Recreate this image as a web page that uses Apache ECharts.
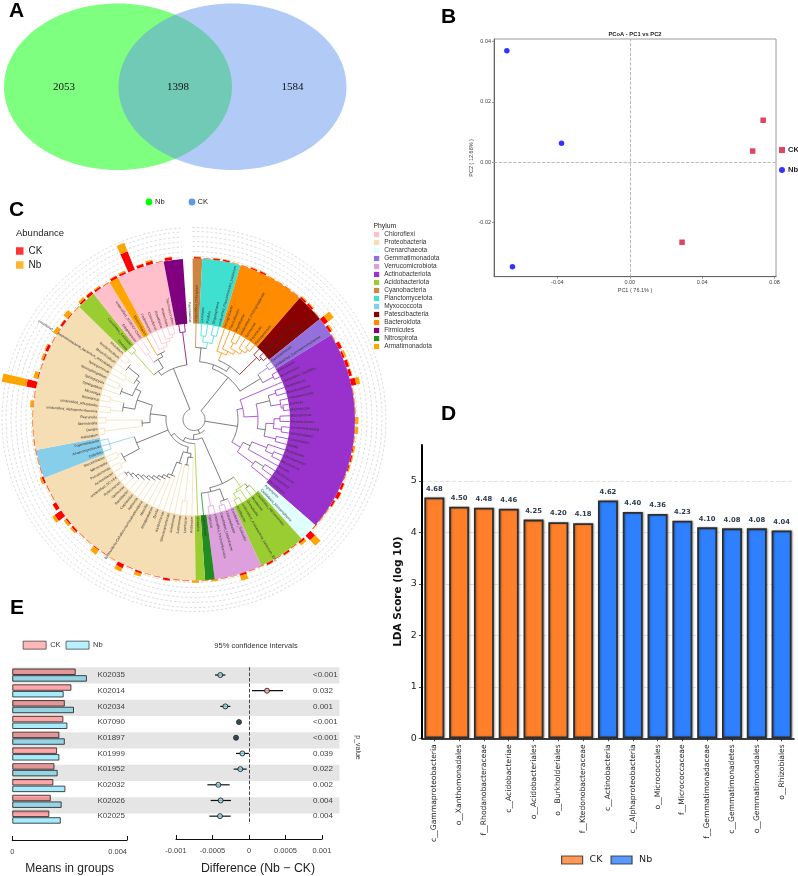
<!DOCTYPE html>
<html>
<head>
<meta charset="utf-8">
<title>Rhizosphere community overview</title>
<script src="https://cdn.jsdelivr.net/npm/echarts@6/dist/echarts.min.js"></script>
<style>
html,body{margin:0;padding:0;background:#fff}
#chart{width:798px;height:876px}
</style>
</head>
<body>
<div id="chart"></div>
<script>
// Panel A: shared and unique OTU counts
const vennCounts = ['2053', '1398', '1584'];

// Panel B: PCoA sample scores
const pcoaCK = [[0.0737, 0.0139], [0.0679, 0.0037], [0.0289, -0.0265]];
const pcoaNb = [[-0.0679, 0.03695], [-0.0377, 0.0063], [-0.0648, -0.0346]];
const pcoaTicksX = [-0.04, 0, 0.04, 0.08];
const pcoaTicksY = [-0.02, 0, 0.02, 0.04];

// Panel C: phylum colours, runs of genera around the circle, and genus names
const phylumColors = {
  Chloroflexi: '#FFC0CB', Proteobacteria: '#F5DEB3', Crenarchaeota: '#E0FFFF',
  Gemmatimonadota: '#9370DB', Verrucomicrobiota: '#DDA0DD', Actinobacteriota: '#9932CC',
  Acidobacteriota: '#9ACD32', Cyanobacteria: '#CD853F', Planctomycetota: '#40E0D0',
  Myxococcota: '#87CEEB', Patescibacteria: '#8B0000', Bacteroidota: '#FF8C00',
  Firmicutes: '#800080', Nitrospirota: '#228B22', Armatimonadota: '#FFA500'
};
const phylumLegend = Object.keys(phylumColors);
const phylumRuns = [
  ['Cyanobacteria', 1], ['Planctomycetota', 4], ['Bacteroidota', 7], ['Patescibacteria', 3],
  ['Gemmatimonadota', 2], ['Actinobacteriota', 21], ['Crenarchaeota', 2], ['Acidobacteriota', 5],
  ['Verrucomicrobiota', 5], ['Nitrospirota', 1], ['Acidobacteriota', 1], ['Proteobacteria', 20],
  ['Myxococcota', 3], ['Proteobacteria', 16], ['Acidobacteriota', 2], ['Chloroflexi', 2],
  ['Armatimonadota', 1], ['Chloroflexi', 5], ['Firmicutes', 2]
];
const genusNames = [
  'unidentified_Chloroplast',
  'Gemmata', 'Pirellula', 'Singulisphaera', 'unidentified_Planctomycetes_bacterium',
  'Ferruginibacter', 'Flavisolibacter', 'Segetibacter', 'unidentified_Chitinophagaceae', 'Terrimonas', 'Pedobacter', 'Flavobacterium',
  'TM7a', 'Candidatus_Saccharimonas', 'unidentified_Saccharimonadales',
  'Gemmatimonas', 'unidentified_Gemmatimonadaceae',
  'Arthrobacter', 'Nocardioides', 'unidentified_Gaiellales', 'Streptomyces', 'Mycobacterium', 'Pseudonocardia', 'Kribbella',
  'Marmoricola', 'Blastococcus', 'Modestobacter', 'Geodermatophilus', 'Solirubrobacter', 'Conexibacter', 'Gaiella', 'Rubrobacter',
  'Microbacterium', 'Micrococcus', 'Kocuria', 'Rhodococcus', 'Actinoplanes', 'Microlunatus', 'Agromyces',
  'Candidatus_Nitrososphaera', 'Candidatus_Nitrocosmicus',
  'Bryobacter', 'Granulicella', 'unidentified_Acidobacteria_bacterium_Ellin', 'Acidibacter', 'Candidatus_Solibacter',
  'Chthoniobacter', 'Candidatus_Udaeobacter', 'unidentified_Pedosphaerales', 'Opitutus', 'Luteolibacter',
  'Nitrospira', 'Aridibacter',
  'Lysobacter', 'Luteimonas', 'Arenimonas', 'Stenotrophomonas', 'Xanthomonas', 'Dyella', 'Rhodanobacter', 'Massilia',
  'Burkholderia-Caballeronia-Paraburkholderia', 'Ralstonia', 'Cupriavidus', 'Ramlibacter', 'Variovorax', 'Polaromonas', 'unidentified_SC-I-84',
  'Acinetobacter', 'Pseudomonas', 'Nitrosospira', 'Steroidobacter', 'Cellvibrio',
  'Anaeromyxobacter', 'Pajaroellobacter', 'Haliangium',
  'Dongia', 'Skermanella', 'Reyranella', 'unidentified_Alphaproteobacteria', 'unidentified_Rhizobiales', 'Roseiarcus', 'Microvirga',
  'Sphingobium', 'Sphingopyxis', 'Novosphingobium', 'Sphingomonas', 'uncultured_Alphaproteobacteria_bacterium_Rhizobiales',
  'Mesorhizobium', 'Bradyrhizobium', 'Rhizobium', 'Devosia',
  'Candidatus_Koribacter', 'Edaphobacter',
  'unidentified_JG30-KF-CM45', 'Ktedonobacter',
  'Fimbriimonas',
  'Chloroflexus', 'Roseiflexus', 'Anaerolinea', 'Thermosporothrix', 'Litorilinea',
  'Bacillus', 'Paenibacillus'
];
// Clades as [branch height, ...children]; 0 is a tip, a negative height marks a grey inner clade
const cladeTree = [11,
  [54,
    [58,
      [72, 0, [78, [84, 0, 0], [86, 0, 0]]],
      [64,
        [72, 0, [76, 0, [80, [86, 0, 0], [84, 0, [88, 0, 0]]]]],
        [88, 0, [91, 0, 0]]]],
    [-78, [90, 0, 0], [90, 0, 0]]],
  [-44,
    [50, 0, [64, [-78, [86, 0, 0], [88, 0, [90, 0, 0]]], [-72, [80, [86, 0, 0], [88, 0, 0]], [84, 0, 0]]]],
    [54, [-62, [78, 0, [86, 0, 0]], 0], [74, [-84, 0, 0], 0]]],
  [15,
    [92, 0, 0],
    [20,
      [-70,
        [82, [-86, 0, 0], [84, 0, [90, 0, 0]]],
        [-74, [-86, 0, [90, 0, 0]], [88, 0, 0], 0]],
      [24,
        0,
        [28,
          [-34,
            [-38, 0, [-46, [82, 0, 0], 0]],
            [-46, 0, [-56,
              [-60, 0, [-63, 0, [-66, 0, [-69, 0, [-72, 0, [-75, 0, [-78, 0, [-81, 0, [-84, 0, [-87, 0, 0]]]]]]]]]]]]],
          [-62, [-80, [86, 0, 0], [84, 0, 0]], [88, 0, 0, 0]],
          [-44,
            [-52, [90, 0, 0], [88, 0, 0]],
            [-60,
              [-72, [84, 0, 0], [86, 0, 0]],
              [-66, [-78, 0, [82, 0, 0]], [-70, [80, 0, 0], [-84, 0, [88, 0, 0]]]]]]]]]],
  [-55,
    [-60, [90, 0, 0],
      [70, [80, 0, 0], [74, 0, [78, 0, [82, 0, [85, 0, [88, 0, 0]]]]]]],
    [88, 0, 0]]
];
// Relative abundance per genus, outward from the ring (the last slot is the opening at the top)
const abundanceCK = [
  1.5, .5, 1.5, 1.5, .4, .5, 1.2, 1.5, .5, .4,
  .5, .6, 2, 2, .5, 5, 2.5, .6, 3.5, 2,
  3, 3, 5, .5, .4, .5, .5, .5, .5, 1,
  1.5, 1.2, .6, 2.5, 3.5, 2, .6, .5, .6, 6.5,
  2, .5, 2, .6, 2, .4, .5, 2, .4, .5,
  .5, .4, .3, .5, .4, 2, .5, .4, 2, .5,
  4, .4, .5, 1, .4, .5, 2, 1.5, 8, 4,
  .5, .6, 2, .5, .4, .5, .6, .4, .5, .4,
  .5, .5, 10, 1, .5, 1.5, 3, .5, .5, 2.5,
  1, .5, 2, 3, 2, .5, 2.5, 2, 20, 3,
  3, .5, 3, 0
];
const abundanceNb = [
  .5, .4, .5, .5, .4, .4, .8, .5, .4, .4,
  .4, .4, 1, 1, .4, 7, 1.5, .4, .5, 2,
  1, .5, 4, .4, .5, .4, 3, 3, .5, 1.5,
  1, 1, .4, .5, .5, .5, .4, .5, .4, 7.5,
  2.5, .4, .5, .4, .5, .5, .4, 5, .5, .4,
  1.5, .5, 2, .4, .5, .4, .4, .5, 3, .4,
  4, .5, .4, 5, .5, .4, 2, 2.5, 3, .5,
  .4, .4, 2, .4, .5, .4, .4, .5, .4, .5,
  3, .4, 25, 4, .4, 2, 1, .4, 4, .5,
  5, .4, 2, .5, 1, .4, .5, 1.5, 9, .5,
  1.5, .4, .5, 0
];
const ringHeights = [163, 168, 173, 178, 183, 188, 192];

// Panel D: LDA effect sizes
const ldaTaxa = [
  'c__Gammaproteobacteria', 'o__Xanthomonadales', 'f__Rhodanobacteraceae', 'c__Acidobacteriae',
  'o__Acidobacteriales', 'o__Burkholderiales', 'f__Ktedonobacteraceae', 'c__Actinobacteria',
  'c__Alphaproteobacteria', 'o__Micrococcales', 'f__Micrococcaceae', 'f__Gemmatimonadaceae',
  'c__Gemmatimonadetes', 'o__Gemmatimonadales', 'o__Rhizobiales'
];
const ldaCK = [4.68, 4.50, 4.48, 4.46, 4.25, 4.20, 4.18, null, null, null, null, null, null, null, null];
const ldaNb = [null, null, null, null, null, null, null, 4.62, 4.40, 4.36, 4.23, 4.10, 4.08, 4.08, 4.04];
const ldaTicks = [0, 1, 2, 3, 4, 5];

// Panel E: KEGG orthologs, group means, differences and p values
const koNames = ['K02035', 'K02014', 'K02034', 'K07090', 'K01897', 'K01999', 'K01952', 'K02032', 'K02026', 'K02025'];
const meanCK = [0.00221, 0.00206, 0.00183, 0.00178, 0.00164, 0.00156, 0.00147, 0.00143, 0.00134, 0.00129];
const meanNb = [0.0026, 0.00179, 0.00215, 0.00192, 0.00183, 0.00164, 0.00158, 0.00185, 0.00172, 0.00169];
const diffEst = [-0.000393, 0.000247, -0.000324, -0.000137, -0.000178, -0.000091, -0.000119, -0.00042, -0.000388, -0.000397];
const diffLow = [-0.000466, 0.000041, -0.000393, -0.00015, -0.000192, -0.000178, -0.00021, -0.00057, -0.000525, -0.000543];
const diffHigh = [-0.000324, 0.000466, -0.000256, -0.000123, -0.00016, -0.000002, -0.000032, -0.000265, -0.000247, -0.000251];
const pValues = ['<0.001', '0.032', '0.001', '<0.001', '<0.001', '0.039', '0.022', '0.002', '0.004', '0.004'];
const stripes = [1, 0, 1, 0, 1, 0, 1, 0, 1, 0];

const SANS = '"Liberation Sans", Arial, sans-serif';
const DEJA = '"DejaVu Sans", sans-serif';
const CIRCLE = {cx: 194, cy: 419.5};
const SLOTS = 104;
const START = 90.5;
const TIP_R = 96;

const phylumIndex = phylumLegend.slice();
const slotPhylum = [];
phylumRuns.forEach(([p, n]) => { for (let i = 0; i < n; i++) slotPhylum.push(phylumIndex.indexOf(p)); });

// Walk the clade tree once, turning every node into arcs and radial branches
const branches = [];
let tipCursor = 0;
function walk(node) {
  if (node === 0) {
    const slot = tipCursor++;
    return {angle: slot + 0.5, phylum: slotPhylum[slot], color: slotPhylum[slot], r: TIP_R};
  }
  const grey = node[0] < 0;
  const r = Math.abs(node[0]);
  const kids = node.slice(1).map(walk);
  const first = kids[0].angle;
  const last = kids[kids.length - 1].angle;
  const pure = kids.every(k => k.phylum === kids[0].phylum) ? kids[0].phylum : -1;
  const color = grey || pure < 0 ? -1 : pure;
  branches.push([0, r, r, first, last, color]);
  kids.forEach(k => branches.push([1, r, k.r, k.angle, k.angle, k.color]));
  return {angle: (first + last) / 2, phylum: pure, color, r};
}
walk(cladeTree);

function arcPoints(api, r, a0, a1) {
  const n = Math.max(1, Math.ceil(Math.abs(a1 - a0) * 2));
  const pts = [];
  for (let i = 0; i <= n; i++) {
    const c = api.coord([r, a0 + (a1 - a0) * i / n]);
    pts.push([c[0], c[1]]);
  }
  return pts;
}
function renderBranch(params, api) {
  const kind = api.value(0);
  const ci = api.value(5);
  const stroke = ci < 0 ? '#5a5a5a' : phylumColors[phylumLegend[ci]];
  const pts = kind === 0
    ? arcPoints(api, api.value(1), api.value(3), api.value(4))
    : [api.coord([api.value(1), api.value(3)]).slice(0, 2), api.coord([api.value(2), api.value(3)]).slice(0, 2)];
  return {type: 'polyline', shape: {points: pts}, style: {stroke, fill: null, lineWidth: 0.8}};
}
function renderRing(params, api) {
  return {
    type: 'polyline',
    shape: {points: arcPoints(api, api.value(0), 0, SLOTS - 1)},
    style: {stroke: '#c4c4c4', fill: null, lineWidth: 0.6, lineDash: [2.5, 2]}
  };
}
function renderGenus(params, api) {
  const slot = api.value(1) - 0.5;
  const c = (slot + 0.5) * 360 / SLOTS - (START - 90);
  const p = api.coord([api.value(0), api.value(1)]);
  const right = c <= 180;
  const rot = (right ? 90 - c : 270 - c) * Math.PI / 180;
  return {
    type: 'text', x: p[0], y: p[1], rotation: rot,
    style: {text: genusNames[params.dataIndex], font: '3.5px ' + SANS, fill: '#333',
      align: right ? 'left' : 'right', verticalAlign: 'middle'}
  };
}
function renderInterval(params, api) {
  const a = api.coord([api.value(1), api.value(0)]);
  const b = api.coord([api.value(2), api.value(0)]);
  return {type: 'line', shape: {x1: a[0], y1: a[1], x2: b[0], y2: b[1]}, style: {stroke: '#111', lineWidth: 1.2}};
}

const hiddenAngle = {axisLine: {show: false}, axisTick: {show: false}, axisLabel: {show: false}, splitLine: {show: false}, splitArea: {show: false}};

// Free-standing captions and panel letters
function caption(text, x, y, font, fill, extra) {
  return Object.assign({type: 'text', x, y, z: 20, silent: true,
    style: Object.assign({text, font, fill, align: 'left', verticalAlign: 'middle'}, extra && extra.style || {})},
    extra && extra.el || {});
}
const graphics = [
  {type: 'ellipse', shape: {cx: 118, cy: 86.7, rx: 114, ry: 83.3}, style: {fill: 'rgba(0,255,0,0.5)'}, z: 1, silent: true},
  {type: 'ellipse', shape: {cx: 232.5, cy: 86.7, rx: 114, ry: 83.3}, style: {fill: 'rgba(100,149,237,0.5)'}, z: 2, silent: true},
  caption(vennCounts[0], 64, 87, '11px "Liberation Serif", serif', '#111', {style: {align: 'center'}}),
  caption(vennCounts[1], 178, 87, '11px "Liberation Serif", serif', '#111', {style: {align: 'center'}}),
  caption(vennCounts[2], 292.5, 87, '11px "Liberation Serif", serif', '#111', {style: {align: 'center'}}),
  caption('A', 9, 11, 'bold 21px ' + SANS, '#000'),
  caption('B', 441, 17, 'bold 21px ' + SANS, '#000'),
  caption('C', 9, 210, 'bold 21px ' + SANS, '#000'),
  caption('D', 441, 414, 'bold 21px ' + SANS, '#000'),
  caption('E', 10, 608, 'bold 21px ' + SANS, '#000'),
  caption('PCoA - PC1 vs PC2', 635, 34.5, 'bold 5.8px ' + SANS, '#222', {style: {align: 'center'}}),
  {type: 'circle', shape: {cx: 149, cy: 202, r: 3.4}, style: {fill: '#00ff00'}, z: 20, silent: true},
  caption('Nb', 155, 202, '7.5px ' + SANS, '#222'),
  {type: 'circle', shape: {cx: 192, cy: 202, r: 3.4}, style: {fill: '#6495ED'}, z: 20, silent: true},
  caption('CK', 197.5, 202, '7.5px ' + SANS, '#222'),
  caption('Abundance', 16, 233, '9.5px ' + SANS, '#222'),
  caption('Phylum', 373.5, 226, '6.8px ' + SANS, '#222'),
  caption('95% confidence intervals', 256, 645.5, '7.5px ' + SANS, '#333', {style: {align: 'center'}}),
  caption('p_value', 358, 747.5, '7px ' + SANS, '#333', {style: {align: 'center'}, el: {rotation: -Math.PI / 2}})
];

const option = {
  animation: false,
  backgroundColor: '#fff',
  textStyle: {fontFamily: SANS},
  graphic: graphics,
  legend: [
    {left: 16, top: 246, orient: 'vertical', padding: 0, itemGap: 4, itemWidth: 7.5, itemHeight: 7.5, selectedMode: false,
      textStyle: {fontSize: 10, color: '#222', fontFamily: SANS},
      data: [{name: 'CK', icon: 'rect', itemStyle: {color: '#ff0000', borderWidth: 0}},
             {name: 'Nb', icon: 'rect', itemStyle: {color: '#ffa500', borderWidth: 0}}]},
    {left: 374, top: 231, orient: 'vertical', padding: 0, itemGap: 1, itemWidth: 5.2, itemHeight: 5.2, selectedMode: false,
      textStyle: {fontSize: 6.5, color: '#333', fontFamily: SANS, lineHeight: 7},
      data: phylumLegend.map(n => ({name: n, icon: 'rect', itemStyle: {color: phylumColors[n], borderWidth: 0}}))},
    {left: 779, top: 146, orient: 'vertical', padding: 0, itemGap: 12, itemWidth: 6, itemHeight: 6, selectedMode: false,
      textStyle: {fontSize: 7.6, fontWeight: 'bold', color: '#222', fontFamily: SANS, padding: [0, 0, 0, -2]},
      data: [{name: 'CK', icon: 'rect', itemStyle: {color: '#DC143C', borderWidth: 0}},
             {name: 'Nb', icon: 'circle', itemStyle: {color: '#0000ff', borderWidth: 0}}]},
    {left: 561, top: 855, orient: 'horizontal', padding: 0, itemGap: 8, itemWidth: 21, itemHeight: 8, selectedMode: false,
      textStyle: {fontSize: 9.5, color: '#222', fontFamily: DEJA, padding: [0, 0, 0, 2]},
      data: [{name: 'CK', icon: 'rect', itemStyle: {color: '#ff7f2a', borderColor: '#2a2a2a', borderWidth: 1.2}},
             {name: 'Nb', icon: 'rect', itemStyle: {color: '#2f80ff', borderColor: '#2a2a2a', borderWidth: 1.2}}]},
    {left: 22.7, top: 640.7, orient: 'horizontal', padding: 0, itemGap: 5, itemWidth: 23, itemHeight: 8, selectedMode: false,
      textStyle: {fontSize: 7.5, color: '#333', fontFamily: SANS, padding: [0, 0, 0, -1]},
      data: [{name: 'CK', icon: 'rect', itemStyle: {color: '#ffa6a6', borderColor: '#333', borderWidth: 0.9}},
             {name: 'Nb', icon: 'rect', itemStyle: {color: '#a6ecff', borderColor: '#333', borderWidth: 0.9}}]}
  ],
  grid: [
    {left: 494, top: 39, width: 282, height: 237.7, show: true, borderColor: '#9a9a9a', borderWidth: 1, backgroundColor: 'transparent'},
    {left: 421.9, top: 445, width: 372.1, height: 293.3},
    {left: 12.3, top: 667.2, width: 114.7, height: 162.6},
    {left: 176, top: 667.2, width: 146, height: 162.6},
    {left: 12, top: 667.2, width: 327.5, height: 162.6}
  ],
  xAxis: [
    {gridIndex: 0, type: 'value', min: -0.075, max: 0.0808, name: 'PC1 ( 76.1% )', nameLocation: 'middle', nameGap: 11,
      nameTextStyle: {fontSize: 5.5, color: '#444'},
      axisLine: {show: true, onZero: false, lineStyle: {color: '#666', width: 1}},
      axisTick: {show: true, length: 2, customValues: pcoaTicksX, lineStyle: {color: '#666', width: 0.6}},
      axisLabel: {customValues: pcoaTicksX, fontSize: 5.5, color: '#444', margin: 3, formatter: v => v.toFixed(2)},
      splitLine: {show: false}},
    {gridIndex: 1, type: 'category', data: ldaTaxa,
      axisLine: {show: true, lineStyle: {color: '#000', width: 1.5}},
      axisTick: {show: true, alignWithLabel: true, length: 3, lineStyle: {color: '#222', width: 0.8}},
      axisLabel: {interval: 0, rotate: 90, fontSize: 7.6, color: '#222', fontFamily: DEJA, margin: 6},
      splitLine: {show: false}},
    {gridIndex: 2, type: 'value', min: 0, max: 0.004, interval: 0.004, offset: 15,
      name: 'Means in groups', nameLocation: 'middle', nameGap: 23, nameTextStyle: {fontSize: 12, color: '#222'},
      axisLine: {show: true, onZero: false, lineStyle: {color: '#111', width: 1.2}},
      axisTick: {show: true, inside: true, length: 4, lineStyle: {color: '#111', width: 1}},
      axisLabel: {fontSize: 7.5, color: '#444', margin: 8, alignMaxLabel: 'right', formatter: v => v === 0 ? '0' : v.toFixed(3)},
      splitLine: {show: false}},
    {gridIndex: 3, type: 'value', min: -0.001, max: 0.001, interval: 0.0005, offset: 15,
      name: 'Difference (Nb \u2212 CK)', nameLocation: 'middle', nameGap: 24,
      nameTextStyle: {fontSize: 12.3, color: '#222', padding: [0, 0, 0, 18]},
      axisLine: {show: true, onZero: false, lineStyle: {color: '#111', width: 1.2}},
      axisTick: {show: true, inside: true, length: 4, lineStyle: {color: '#111', width: 1}},
      axisLabel: {fontSize: 7.5, color: '#444', margin: 8,
        formatter: v => Math.abs(v) < 1e-9 ? '0' : String(+v.toFixed(4))},
      splitLine: {show: false}},
    {gridIndex: 4, type: 'value', min: 0, max: 1, show: false}
  ],
  yAxis: [
    {gridIndex: 0, type: 'value', min: -0.0379, max: 0.0408, name: 'PC2 ( 12.68% )', nameLocation: 'middle', nameGap: 17,
      nameTextStyle: {fontSize: 5.5, color: '#444'},
      axisLine: {show: true, onZero: false, lineStyle: {color: '#666', width: 1}},
      axisTick: {show: true, length: 2, customValues: pcoaTicksY, lineStyle: {color: '#666', width: 0.6}},
      axisLabel: {customValues: pcoaTicksY, fontSize: 5.5, color: '#444', margin: 3, formatter: v => v.toFixed(2)},
      splitLine: {show: false}},
    {gridIndex: 1, type: 'value', min: 0, max: 5.7, name: 'LDA Score (log 10)', nameLocation: 'middle', nameGap: 18,
      nameTextStyle: {fontSize: 10.5, fontWeight: 'bold', color: '#111', fontFamily: DEJA},
      axisLine: {show: true, onZero: false, lineStyle: {color: '#000', width: 2}},
      axisTick: {show: true, length: 3, customValues: ldaTicks, lineStyle: {color: '#222', width: 0.8}},
      axisLabel: {customValues: ldaTicks, fontSize: 9.5, color: '#222', fontFamily: DEJA, margin: 5},
      splitLine: {show: true, lineStyle: {type: 'dashed', color: '#e0e0e0', width: 1}}},
    {gridIndex: 2, type: 'category', data: koNames, inverse: true, show: false},
    {gridIndex: 3, type: 'category', data: koNames, inverse: true, z: 8,
      axisLine: {show: false}, axisTick: {show: false},
      axisLabel: {interval: 0, fontSize: 8, color: '#444', margin: 51},
      splitLine: {show: false}},
    {gridIndex: 4, type: 'category', data: koNames, inverse: true, show: false},
    {gridIndex: 3, type: 'category', data: pValues, inverse: true, position: 'right', z: 8,
      axisLine: {show: false}, axisTick: {show: false},
      axisLabel: {interval: 0, fontSize: 8, color: '#444', margin: -9},
      splitLine: {show: false}}
  ],
  polar: [
    {center: [CIRCLE.cx, CIRCLE.cy], radius: [161, 198]},
    {center: [CIRCLE.cx, CIRCLE.cy], radius: [0, 198]}
  ],
  angleAxis: [
    Object.assign({polarIndex: 0, type: 'category', data: genusNames.concat(['']), startAngle: START}, hiddenAngle),
    Object.assign({polarIndex: 1, type: 'value', min: 0, max: SLOTS, startAngle: START}, hiddenAngle)
  ],
  radiusAxis: [
    Object.assign({polarIndex: 0, type: 'value', min: 0, max: 37}, hiddenAngle),
    Object.assign({polarIndex: 1, type: 'value', min: 0, max: 198}, hiddenAngle)
  ],
  series: [
    // Panel B
    {name: 'CK', type: 'scatter', xAxisIndex: 0, yAxisIndex: 0, data: pcoaCK, symbol: 'rect', symbolSize: 5.5,
      itemStyle: {color: '#DC143C'},
      markLine: {silent: true, symbol: 'none', label: {show: false},
        lineStyle: {type: 'dashed', color: '#a8a8a8', width: 0.8},
        data: [{xAxis: 0}, {yAxis: 0}]}},
    {name: 'Nb', type: 'scatter', xAxisIndex: 0, yAxisIndex: 0, data: pcoaNb, symbol: 'circle', symbolSize: 5.5,
      itemStyle: {color: '#0000ff'}},

    // Panel C, phylum band
    {name: 'Phylum band', type: 'pie', center: [CIRCLE.cx, CIRCLE.cy], radius: [96, 161], startAngle: START,
      silent: true, z: 2, label: {show: false}, labelLine: {show: false},
      data: phylumRuns.map(([p, n]) => ({name: p, value: n, itemStyle: {color: phylumColors[p]}}))
        .concat([{name: 'opening', value: 1, itemStyle: {color: 'transparent'}}])},
    {name: 'Rings', type: 'custom', coordinateSystem: 'polar', polarIndex: 1, z: 1, silent: true,
      data: ringHeights.map(r => [r, 0]), renderItem: renderRing},
    {name: 'Clades', type: 'custom', coordinateSystem: 'polar', polarIndex: 1, z: 3, silent: true,
      dimensions: ['kind', 'r0', 'r1', 'a0', 'a1', 'color'], encode: {radius: 1, angle: 3},
      data: branches, renderItem: renderBranch},
    {name: 'Genera', type: 'custom', coordinateSystem: 'polar', polarIndex: 1, z: 4, silent: true,
      data: genusNames.map((n, i) => [97, i + 0.5]), renderItem: renderGenus},
    {name: 'CK', type: 'bar', coordinateSystem: 'polar', polarIndex: 0, stack: 'abundance', barWidth: '72%', z: 5, silent: true,
      data: abundanceCK, itemStyle: {color: '#ff0000'}},
    {name: 'Nb', type: 'bar', coordinateSystem: 'polar', polarIndex: 0, stack: 'abundance', barWidth: '72%', z: 5, silent: true,
      data: abundanceNb, itemStyle: {color: '#ffa500'}},

    // Panel D
    {name: 'CK', type: 'bar', xAxisIndex: 1, yAxisIndex: 1, stack: 'lda', barWidth: 20, data: ldaCK,
      itemStyle: {color: '#ff7f2a', borderColor: '#2e2e2e', borderWidth: 1.8, shadowColor: 'rgba(0,0,0,0.3)', shadowBlur: 2, shadowOffsetX: 1, shadowOffsetY: 0},
      label: {show: true, position: 'top', distance: 5, fontSize: 6.8, fontWeight: 'bold', color: '#2c3e50', fontFamily: DEJA, formatter: p => p.value.toFixed(2)}},
    {name: 'Nb', type: 'bar', xAxisIndex: 1, yAxisIndex: 1, stack: 'lda', barWidth: 20, data: ldaNb,
      itemStyle: {color: '#2f80ff', borderColor: '#2e2e2e', borderWidth: 1.8, shadowColor: 'rgba(0,0,0,0.3)', shadowBlur: 2, shadowOffsetX: 1, shadowOffsetY: 0},
      label: {show: true, position: 'top', distance: 5, fontSize: 6.8, fontWeight: 'bold', color: '#2c3e50', fontFamily: DEJA, formatter: p => p.value.toFixed(2)}},

    // Panel E, group means with stripes laid over them
    {name: 'CK', type: 'bar', xAxisIndex: 2, yAxisIndex: 2, barWidth: 6.4, barGap: '4%', data: meanCK,
      itemStyle: {color: '#ffa6a6', borderColor: '#333', borderWidth: 0.9}},
    {name: 'Nb', type: 'bar', xAxisIndex: 2, yAxisIndex: 2, barWidth: 6.4, barGap: '4%', data: meanNb,
      itemStyle: {color: '#a6ecff', borderColor: '#333', borderWidth: 0.9}},
    {name: 'Row stripes', type: 'bar', xAxisIndex: 4, yAxisIndex: 4, barWidth: '100%', z: 3, silent: true, data: stripes,
      itemStyle: {color: 'rgba(0,0,0,0.1)'}},

    // Panel E, differences with confidence intervals
    {name: 'Interval', type: 'custom', xAxisIndex: 3, yAxisIndex: 3, z: 4, silent: true,
      encode: {x: [1, 2], y: 0},
      data: koNames.map((k, i) => [i, diffLow[i], diffHigh[i]]), renderItem: renderInterval},
    {name: 'Difference', type: 'scatter', xAxisIndex: 3, yAxisIndex: 3, z: 5, symbolSize: 5, silent: true,
      data: koNames.map((k, i) => ({
        value: [diffEst[i], k],
        itemStyle: {
          color: diffHigh[i] - diffLow[i] < 0.00005 ? '#0d3a44' : (diffEst[i] > 0 ? '#ffa6a6' : '#8fdcee'),
          borderColor: '#111', borderWidth: 1
        }
      })),
      markLine: {silent: true, symbol: 'none', label: {show: false}, z: 4,
        lineStyle: {type: 'dashed', color: '#333', width: 0.9}, data: [{xAxis: 0}]}}
  ]
};

const chart = echarts.init(document.getElementById('chart'), null, {renderer: 'canvas'});
chart.setOption(option);
</script>
</body>
</html>
